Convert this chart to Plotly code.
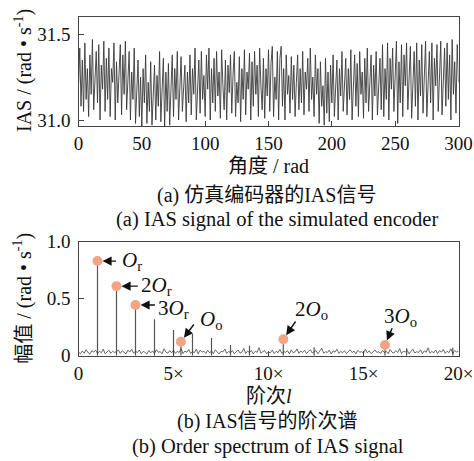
import plotly.graph_objects as go

# ---------------- data ----------------
angle_rad = list(range(0, 301))
ias_values = [
    31.20, 31.42, 31.08, 31.35, 31.05, 31.45, 31.12, 31.30, 31.02, 31.38,
    31.15, 31.47, 31.06, 31.28, 31.40, 31.10, 31.44, 31.00, 31.32, 31.18,
    31.46, 31.05, 31.36, 31.12, 31.42, 31.02, 31.30, 31.22, 31.45, 31.00,
    31.34, 31.10, 31.25, 31.44, 31.03, 31.38, 31.15, 31.46, 31.06, 31.30,
    31.40, 31.00, 31.28, 31.12, 31.42, 30.98, 31.20, 31.35, 31.02, 31.25,
    30.96, 31.30, 31.10, 31.38, 30.98, 31.22, 31.05, 31.34, 30.97, 31.18,
    31.32, 31.00, 31.26, 31.08, 31.40, 30.99, 31.15, 31.36, 30.96, 31.28,
    31.05, 31.33, 30.97, 31.20, 31.38, 31.02, 31.30, 31.12, 31.40, 31.00,
    31.25, 31.37, 31.05, 31.18, 31.32, 30.99, 31.28, 31.10, 31.38, 31.03,
    31.30, 31.15, 31.42, 31.00, 31.22, 31.35, 31.04, 31.40, 31.12, 31.26,
    31.02, 31.38, 31.18, 31.42, 31.00, 31.30, 31.10, 31.36, 31.05, 31.40,
    31.14, 31.28, 31.01, 31.41, 31.20, 31.06, 31.35, 31.00, 31.32, 31.16,
    31.38, 31.04, 31.26, 31.40, 31.02, 31.22, 31.10, 31.37, 30.99, 31.30,
    31.12, 31.41, 31.03, 31.28, 31.18, 31.39, 31.00, 31.34, 31.08, 31.40,
    31.15, 31.32, 31.02, 31.42, 31.20, 31.06, 31.36, 31.01, 31.30, 31.14,
    31.41, 31.05, 31.33, 31.43, 31.02, 31.25, 31.12, 31.40, 31.00, 31.36,
    31.43, 31.08, 31.30, 31.00, 31.38, 31.15, 31.26, 31.04, 31.37, 31.12,
    31.32, 31.02, 31.22, 31.38, 31.06, 31.30, 31.10, 31.40, 31.03, 31.28,
    31.18, 31.36, 31.05, 31.42, 31.12, 31.25, 31.02, 31.38, 31.15, 31.30,
    30.98, 31.34, 31.08, 31.20, 30.97, 31.36, 31.04, 31.28, 30.99, 31.32,
    31.10, 31.38, 31.02, 31.25, 31.35, 31.00, 31.30, 31.14, 31.40, 31.05,
    31.22, 31.36, 31.03, 31.30, 31.12, 31.41, 31.00, 31.26, 31.38, 31.08,
    31.33, 31.02, 31.40, 31.15, 31.28, 31.01, 31.36, 31.10, 31.42, 31.05,
    31.26, 31.38, 31.00, 31.32, 31.14, 31.40, 31.03, 31.22, 31.36, 31.06,
    31.44, 31.02, 31.30, 31.12, 31.45, 31.00, 31.36, 31.18, 31.42, 31.05,
    31.28, 31.46, 30.98, 31.34, 31.10, 31.44, 31.02, 31.38, 31.20, 31.45,
    31.06, 31.32, 31.43, 31.01, 31.26, 31.40, 31.08, 31.45, 31.00, 31.35,
    31.14, 31.44, 31.04, 31.30, 31.46, 31.02, 31.24, 31.40, 31.10, 31.45,
    31.00, 31.36, 31.20, 31.44, 31.05, 31.32, 31.46, 31.03, 31.28, 31.42,
    31.08, 31.45, 31.12, 31.38, 31.00, 31.47, 31.15, 31.34, 31.04, 31.44,
    31.22,
]

order_grid = [i / 10 for i in range(0, 201)]
noise_floor = [
    0.030, 0.018, 0.041, 0.022, 0.052, 0.027, 0.015, 0.044, 0.031, 0.048,
    0.020, 0.039, 0.026, 0.058, 0.017, 0.033, 0.047, 0.021, 0.038, 0.029,
    0.034, 0.051, 0.019, 0.043, 0.028, 0.016, 0.049, 0.032, 0.056, 0.021,
    0.040, 0.027, 0.050, 0.018, 0.037, 0.030, 0.014, 0.046, 0.025, 0.042,
    0.019, 0.053, 0.029, 0.036, 0.017, 0.060, 0.031, 0.022, 0.045, 0.026,
    0.048, 0.020, 0.038, 0.028, 0.062, 0.018, 0.041, 0.030, 0.054, 0.021,
    0.036, 0.027, 0.057, 0.016, 0.049, 0.031, 0.040, 0.019, 0.047, 0.025,
    0.042, 0.018, 0.052, 0.029, 0.015, 0.039, 0.033, 0.058, 0.020, 0.037,
    0.026, 0.045, 0.017, 0.034, 0.050, 0.023, 0.031, 0.064, 0.019, 0.040,
    0.028, 0.046, 0.016, 0.038, 0.030, 0.071, 0.022, 0.035, 0.044, 0.018,
    0.033, 0.025, 0.048, 0.019, 0.039, 0.027, 0.055, 0.021, 0.036, 0.030,
    0.043, 0.016, 0.051, 0.026, 0.034, 0.060, 0.020, 0.041, 0.028, 0.047,
    0.018, 0.037, 0.053, 0.024, 0.032, 0.045, 0.017, 0.039, 0.066, 0.022,
    0.035, 0.028, 0.049, 0.015, 0.042, 0.031, 0.056, 0.020, 0.038, 0.026,
    0.044, 0.019, 0.033, 0.052, 0.027, 0.040, 0.016, 0.047, 0.030, 0.036,
    0.021, 0.058, 0.025, 0.043, 0.018, 0.037, 0.050, 0.029, 0.034, 0.020,
    0.046, 0.027, 0.039, 0.017, 0.054, 0.031, 0.023, 0.045, 0.028, 0.062,
    0.019, 0.040, 0.033, 0.048, 0.016, 0.038, 0.057, 0.024, 0.035, 0.029,
    0.051, 0.018, 0.042, 0.030, 0.068, 0.022, 0.037, 0.026, 0.049, 0.019,
    0.044, 0.031, 0.055, 0.021, 0.039, 0.027, 0.060, 0.018, 0.046, 0.032,
    0.040,
]

spike_orders = [1.0, 2.0, 3.0, 4.0, 5.0, 5.39, 6.0, 7.0, 8.0, 9.0,
                10.78, 12.4, 16.13, 17.27, 19.7]
spike_amps = [0.83, 0.61, 0.445, 0.32, 0.225, 0.123, 0.19, 0.155, 0.094, 0.088,
              0.144, 0.075, 0.094, 0.065, 0.07]

peak_orders = [1.0, 2.0, 3.0, 5.39, 10.78, 16.13]
peak_amps = [0.83, 0.61, 0.445, 0.123, 0.144, 0.094]
peak_labels = ["<i>O</i><sub>r</sub>", "2<i>O</i><sub>r</sub>", "3<i>O</i><sub>r</sub>",
               "<i>O</i><sub>o</sub>", "2<i>O</i><sub>o</sub>", "3<i>O</i><sub>o</sub>"]

top_xticks = [0, 50, 100, 150, 200, 250, 300]
top_yticks = [31.0, 31.5]
top_yticktext = ["31.0", "31.5"]
bot_xticks = [0, 5, 10, 15, 20]
bot_xticktext = ["0", "5×", "10×", "15×", "20×"]
bot_yticks = [0, 0.5, 1.0]
bot_yticktext = ["0", "0.5", "1.0"]

# ---------------- figure ----------------
W, H = 474, 461
FONT = "Liberation Serif, 'Noto Sans CJK SC', serif"


def fx(p):
    return p / W


def fy(p):
    return 1 - p / H


stem_x, stem_y = [], []
for o, a in zip(spike_orders, spike_amps):
    stem_x += [o, o, None]
    stem_y += [0, a, None]

fig = go.Figure()
fig.add_trace(go.Scatter(x=angle_rad, y=ias_values, mode="lines",
                         line=dict(color="#3a3a3a", width=0.9),
                         xaxis="x", yaxis="y", showlegend=False))
fig.add_trace(go.Scatter(x=stem_x, y=stem_y, mode="lines",
                         line=dict(color="#555555", width=1.2),
                         xaxis="x2", yaxis="y2", showlegend=False))
fig.add_trace(go.Scatter(x=order_grid, y=noise_floor, mode="lines",
                         line=dict(color="#444444", width=0.8),
                         xaxis="x2", yaxis="y2", showlegend=False))
fig.add_trace(go.Scatter(x=peak_orders, y=peak_amps, mode="markers",
                         marker=dict(color="#F4A486", size=10),
                         xaxis="x2", yaxis="y2", showlegend=False))

axis_common = dict(showline=True, mirror=True, linecolor="#444444", linewidth=1.2,
                   ticks="inside", ticklen=5, tickcolor="#444444", tickwidth=1,
                   showgrid=False, zeroline=False, automargin=False,
                   tickfont=dict(family=FONT, size=19, color="#111111"))

xd = [fx(78.5), fx(458.5)]
fig.update_layout(
    width=W, height=H,
    margin=dict(l=0, r=0, t=0, b=0),
    paper_bgcolor="white", plot_bgcolor="white",
    xaxis=dict(domain=xd, range=[0, 300], tickvals=top_xticks, anchor="y",
               **axis_common),
    yaxis=dict(domain=[fy(126), fy(16.7)], range=[30.965, 31.603],
               tickvals=top_yticks, ticktext=top_yticktext, anchor="x",
               ticklabelstandoff=3, **axis_common),
    xaxis2=dict(domain=xd, range=[0, 20], tickvals=bot_xticks,
                ticktext=bot_xticktext, anchor="y2", **axis_common),
    yaxis2=dict(domain=[fy(355.7), fy(241.7)], range=[0, 1.0],
                tickvals=bot_yticks, ticktext=bot_yticktext, anchor="x2",
                ticklabelstandoff=3, **axis_common),
)

ann = []


def text_ann(x, y, text, size, **kw):
    d = dict(x=fx(x), y=fy(y), xref="paper", yref="paper", text=text,
             xanchor="center", yanchor="middle",
             showarrow=False, font=dict(family=FONT, size=size, color="#111111"))
    d.update(kw)
    ann.append(d)


text_ann(268.5, 166, "角度 / rad", 20)
text_ann(266, 195, "(a) 仿真编码器的IAS信号", 20)
text_ann(277, 219, "(a) IAS signal of the simulated encoder", 20.5)
text_ann(269, 396, "阶次<i>l</i>", 20)
text_ann(267, 421, "(b) IAS信号的阶次谱", 20)
text_ann(268, 446, "(b) Order spectrum of IAS signal", 20.5)
text_ann(23, 71, "IAS / (rad • s<sup>-1</sup>)", 20, textangle=-90)
text_ann(23, 298.7, "幅值 / (rad • s<sup>-1</sup>)", 20, textangle=-90)

# arrows: (tail order, tail amp) -> peak, label position (left x order, amp)
arrow_tails = [(2.05, 0.83), (3.2, 0.61), (4.1, 0.445),
               (6.13, 0.287), (11.48, 0.313), (16.54, 0.254)]
label_pos = [(2.2, 0.83), (3.2, 0.61), (4.1, 0.41),
             (6.3, 0.31), (11.3, 0.40), (15.95, 0.34)]

for (tx, ty), (lx, ly), px_, py_, lab in zip(arrow_tails, label_pos,
                                              peak_orders, peak_amps, peak_labels):
    ann.append(dict(x=px_, y=py_, ax=tx, ay=ty, xref="x2", yref="y2",
                    axref="x2", ayref="y2", text="", showarrow=True,
                    arrowhead=2, arrowsize=1.3, arrowwidth=1.4,
                    arrowcolor="#111111", standoff=5, startstandoff=0))
    ann.append(dict(x=lx, y=ly, xref="x2", yref="y2", text=lab,
                    showarrow=False, xanchor="left", yanchor="middle",
                    font=dict(family=FONT, size=21, color="#111111")))

fig.update_layout(annotations=ann)
fig.write_html("out.html", config={"displayModeBar": False},
               post_script="document.body.style.margin='0';document.body.style.overflow='hidden';")
